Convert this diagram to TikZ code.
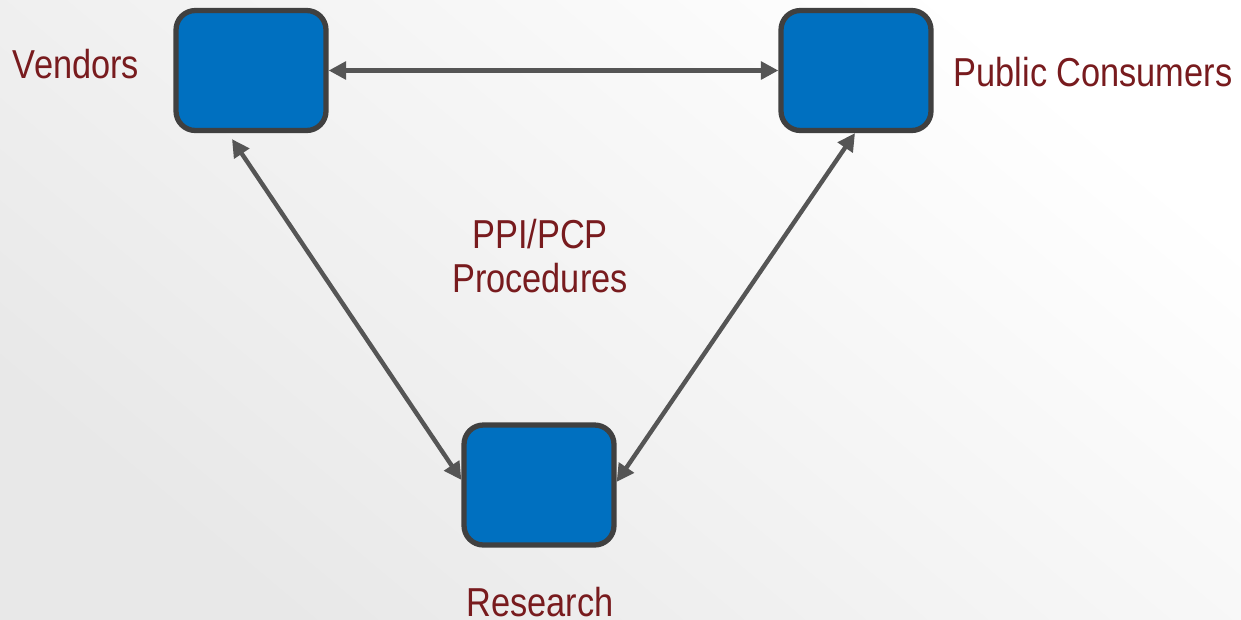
\documentclass[tikz,border=0pt]{standalone}
\usepackage{fontspec}
\setmainfont[FakeStretch=0.85]{Liberation Sans}
\usetikzlibrary{arrows.meta,calc}
\definecolor{boxblue}{HTML}{0070C0}
\definecolor{boxline}{HTML}{404040}
\definecolor{arrowgray}{HTML}{555555}
\definecolor{labelred}{HTML}{781B1E}
\begin{document}
\begin{tikzpicture}[x=0.02cm,y=-0.02cm,
  block/.style={draw=boxline,line width=3pt,fill=boxblue,rounded corners=11pt,
    minimum width=3cm,minimum height=2.4cm,inner sep=0pt},
  link/.style={draw=arrowgray,line width=2.5pt,
    {Triangle[length=10pt,width=10pt]}-{Triangle[length=10pt,width=10pt]}},
  lbl/.style={text=labelred,font=\fontsize{23}{25.5}\selectfont,inner sep=0pt,align=center}]
  \shade[top color=white,bottom color=black!9,shading angle=-40] (0,0) rectangle (1241,619);
  \useasboundingbox (0,0) rectangle (1241,619);
  \node[block] (v) at (251,70.5) {};
  \node[block] (p) at (856,70.5) {};
  \node[block] (r) at (539,485) {};
  \draw[link] (v.east) -- (p.west);
  \draw[link] ($(v.south)+(-19,6)$) -- ($(r.west)+(0,-5)$);
  \draw[link] ($(p.south)+(-1,0)$) -- ($(r.east)+(0,-3)$);
  \node[lbl,anchor=base] (vl) at (76,78) {Vendors};
  \node[lbl,anchor=base] (pl) at (1093,86) {Public Consumers};
  \node[lbl] (ml) at (540,256) {PPI/PCP\\Procedures};
  \node[lbl,anchor=base] (rl) at (540,616) {Research};
\end{tikzpicture}
\end{document}
